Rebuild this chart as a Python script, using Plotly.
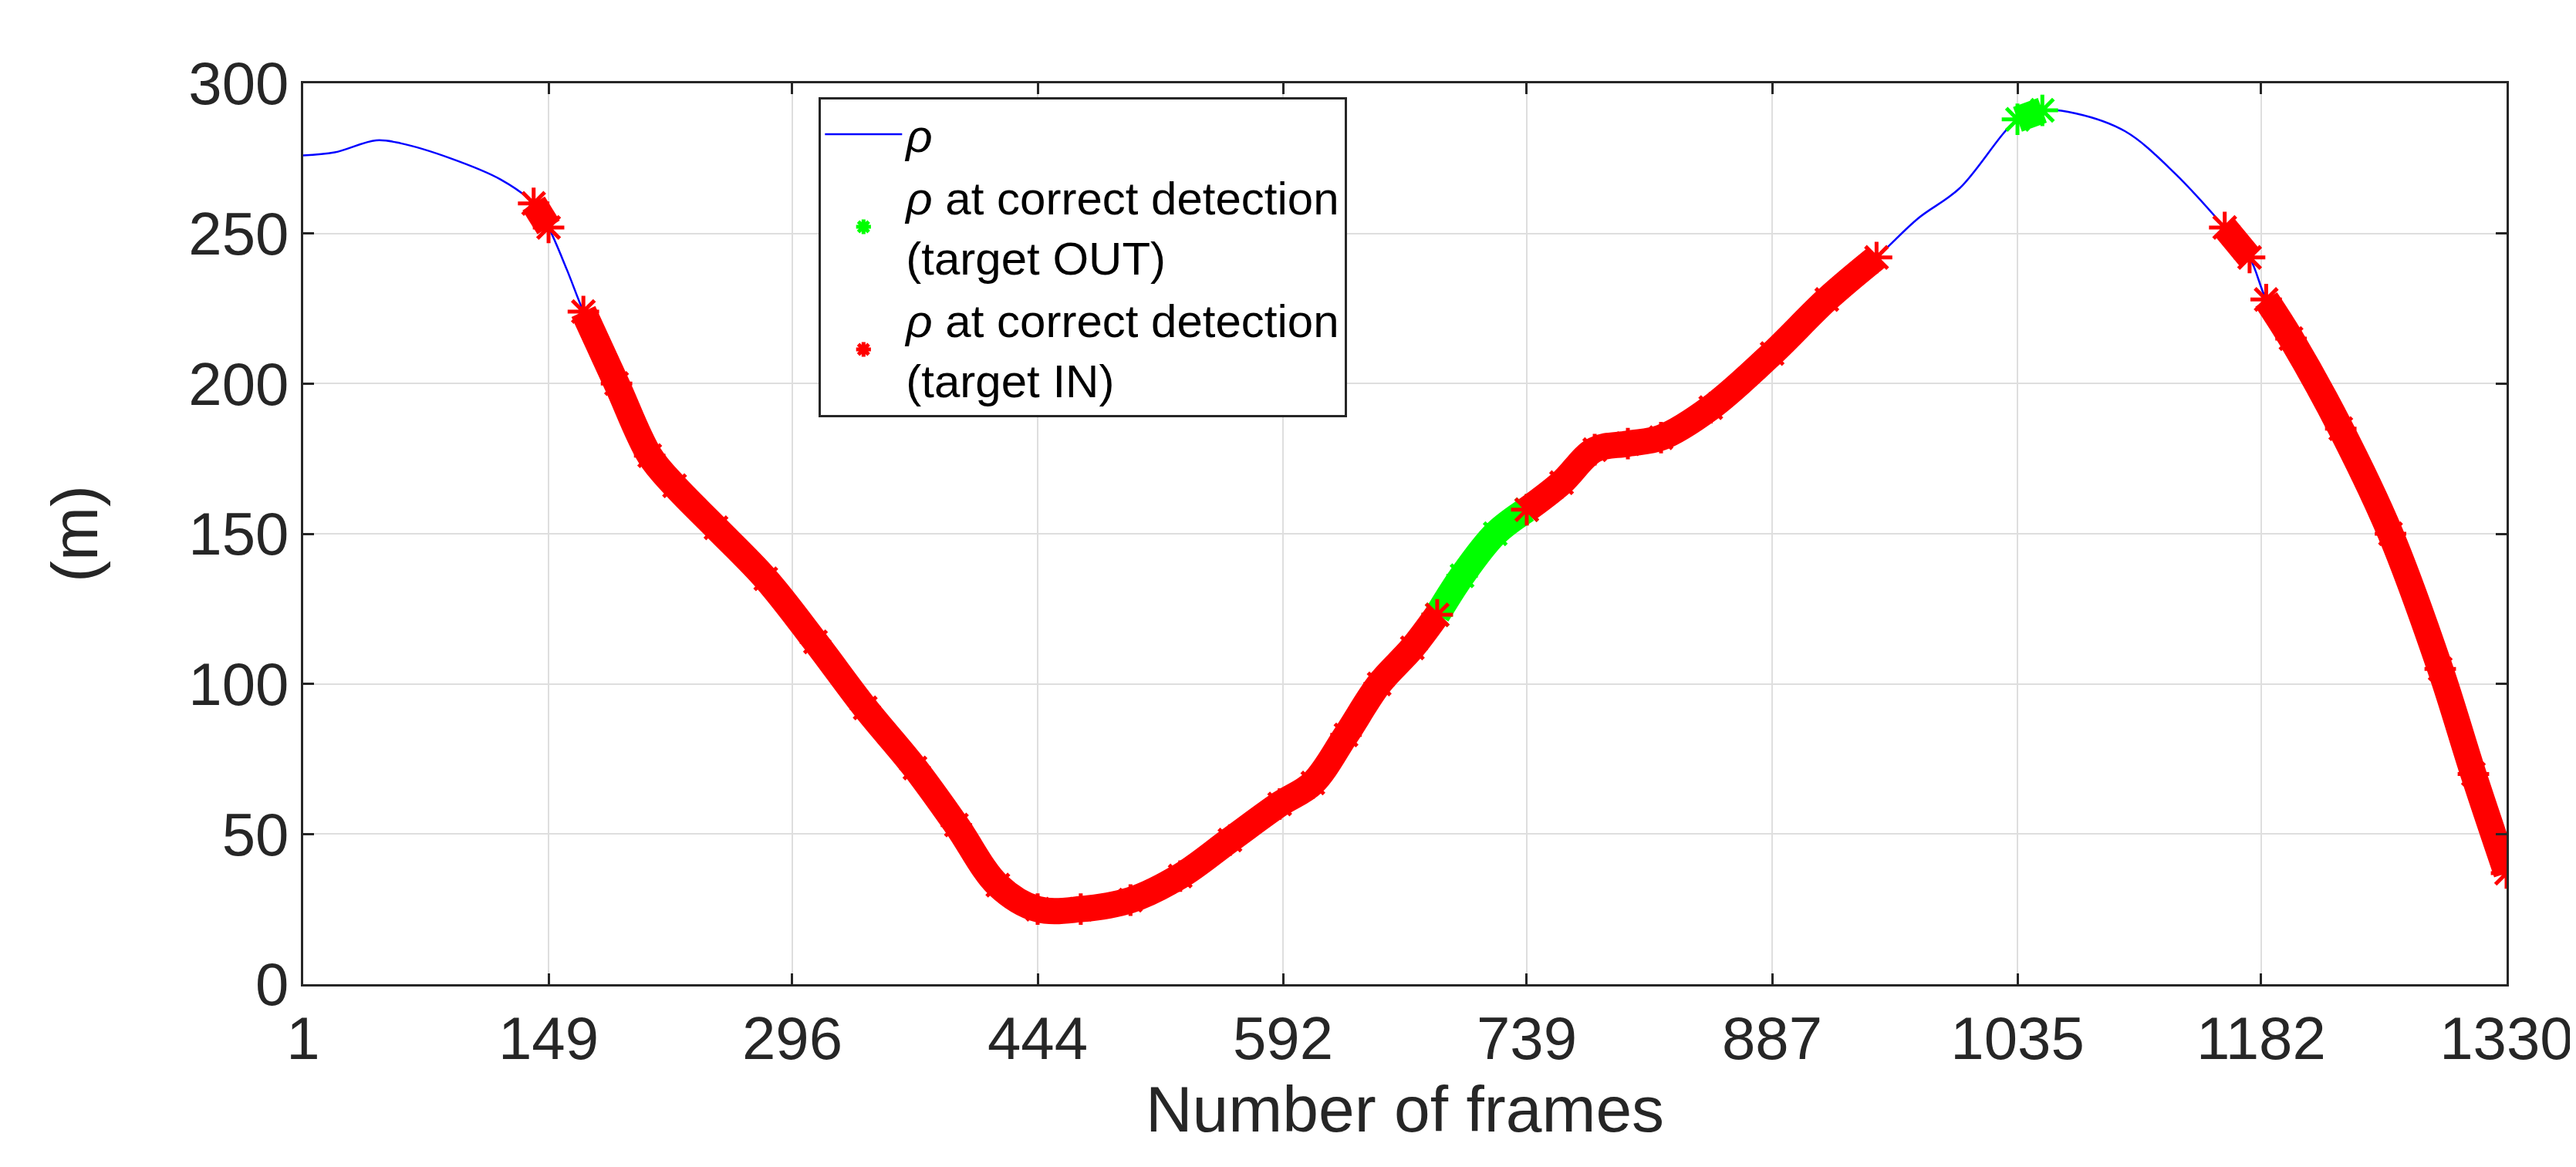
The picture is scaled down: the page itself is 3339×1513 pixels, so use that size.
import plotly.graph_objects as go

# frame index and rho (m)
frames = [1, 20, 45, 60, 90, 120, 140, 149, 160, 170, 190, 210, 225, 250, 280, 310, 340, 370,
          395, 420, 444, 470, 500, 530, 560, 590, 610, 630, 650, 670, 685, 700, 720, 739,
          760, 780, 800, 820, 850, 887, 920, 950, 975, 1000, 1035, 1050, 1070, 1100, 1130,
          1160, 1175, 1185, 1200, 1230, 1260, 1290, 1310, 1330]
rho = [276, 277, 281, 280, 275, 268, 260, 252, 238, 224, 200, 176, 166, 152, 135, 114, 92, 72,
       53, 33, 25, 25, 28, 36, 48, 60, 67, 83, 100, 112, 123, 136, 150, 158,
       167, 178, 180, 182, 192, 210, 228, 242, 255, 265, 288, 291, 290, 284, 270,
       252, 242, 228, 215, 185, 150, 105, 70, 37]

# detection segments (frame ranges)
in_ranges = [(140, 149), (170, 685), (739, 950), (1160, 1175), (1185, 1330)]
out_ranges = [(685, 739), (1035, 1050)]

tick_vals = [1, 149, 296, 444, 592, 739, 887, 1035, 1182, 1330]

fig = go.Figure()
fig.add_trace(go.Scatter(x=frames, y=rho, mode="lines", line=dict(color="#0000ff", width=2.5, shape="spline"),
                         name="<i>ρ</i>"))


def add_segments(ranges, color, name):
    for a, b in ranges:
        xs = [f for f in frames if a <= f <= b]
        ys = [r for f, r in zip(frames, rho) if a <= f <= b]
        fig.add_trace(go.Scatter(x=xs, y=ys, mode="lines+markers",
                                 line=dict(color=color, width=34, shape="spline"),
                                 marker=dict(symbol="asterisk-open", size=34, color=color,
                                             line=dict(color=color, width=5)),
                                 showlegend=False))
    # legend entry: marker only
    fig.add_trace(go.Scatter(x=[None], y=[None], mode="markers", name=name,
                             marker=dict(symbol="asterisk-open", size=26, color=color,
                                         line=dict(color=color, width=5))))


add_segments(out_ranges, "#00ff00", "<i>ρ</i> at correct detection<br>(target OUT)")
add_segments(in_ranges, "#ff0000", "<i>ρ</i> at correct detection<br>(target IN)")

axis_common = dict(showline=True, linecolor="#262626", linewidth=3, mirror="ticks",
                   ticks="inside", ticklen=14, tickwidth=3, tickcolor="#262626",
                   showgrid=True, gridcolor="#dedede", gridwidth=2, zeroline=False,
                   tickfont=dict(size=78, color="#262626"))

fig.update_layout(
    width=3339, height=1513,
    paper_bgcolor="white", plot_bgcolor="white",
    font=dict(family="Liberation Sans, Arial", color="#262626"),
    margin=dict(l=385, r=98, t=100, b=245),
    xaxis=dict(range=[1, 1330], tickvals=tick_vals,
               title=dict(text="Number of frames", font=dict(size=84), standoff=20),
               **axis_common),
    yaxis=dict(range=[0, 300], tickvals=[0, 50, 100, 150, 200, 250, 300],
               title=dict(text="(m)", font=dict(size=84), standoff=90),
               **axis_common),
    legend=dict(x=0.234, y=0.985, xanchor="left", yanchor="top",
                bgcolor="white", bordercolor="#262626", borderwidth=3,
                font=dict(size=60, color="#000000"), itemwidth=100, tracegroupgap=6),
)

fig.write_html("out.html")
